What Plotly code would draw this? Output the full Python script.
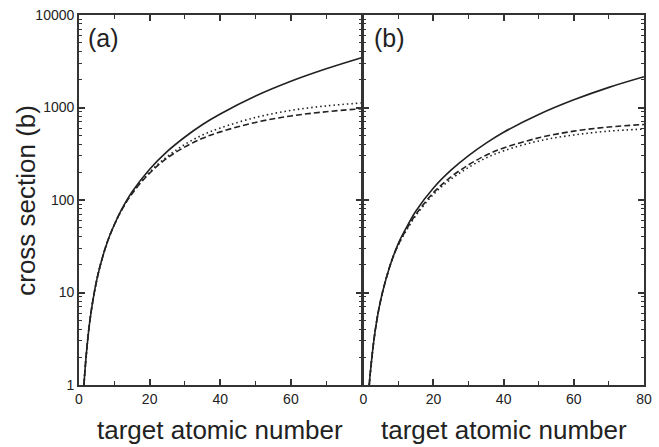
import plotly.graph_objects as go

# ---- data ----
z_a = [1.4, 2, 3, 4, 5, 6, 8, 10, 12, 15, 20, 25, 30, 35, 40, 50, 60, 70, 80]
a_solid = [1.0, 2.0, 4.7, 8.5, 13.5, 19.5, 35, 54, 78, 122, 215, 335, 480, 655, 850, 1330, 1920, 2620, 3450]
a_dotted = [1.0, 2.0, 4.7, 8.5, 13.5, 19.5, 35, 54, 77, 118, 200, 295, 400, 505, 600, 780, 930, 1040, 1120]
a_dashed = [1.0, 2.0, 4.7, 8.5, 13.5, 19.5, 35, 54, 77, 117, 195, 285, 375, 465, 545, 690, 810, 900, 970]

z_b = [1.7, 2, 3, 4, 5, 6, 8, 10, 12, 15, 20, 25, 30, 35, 40, 50, 60, 70, 80]
b_solid = [1.0, 1.35, 3.0, 5.4, 8.4, 12, 21.5, 34, 48, 76, 135, 210, 302, 412, 540, 840, 1210, 1650, 2150]
b_dashed = [1.0, 1.35, 3.0, 5.4, 8.4, 12, 21.5, 33, 46, 70, 120, 178, 240, 305, 365, 470, 555, 615, 655]
b_dotted = [1.0, 1.35, 3.0, 5.4, 8.4, 12, 21.5, 33, 45, 68, 115, 168, 225, 285, 340, 435, 505, 555, 585]

y_major = [1, 10, 100, 1000, 10000]
y_major_text = ["1", "10", "100", "1000", "10000"]
y_minor = [m * 10 ** e for e in range(4) for m in range(2, 10)]
xa_ticks = [0, 20, 40, 60]
xb_ticks = [0, 20, 40, 60, 80]
x_minor = [10, 30, 50, 70]

FONT = "Liberation Sans, Arial, Helvetica, sans-serif"
LINE = "#222"
AX = "#333"
LW = 1.8

fig = go.Figure()

def add(x, y, dash, xa, ya):
    fig.add_trace(go.Scatter(x=x, y=y, mode="lines", xaxis=xa, yaxis=ya,
                             line=dict(color=LINE, width=1.6, dash=dash, shape="spline"),
                             showlegend=False, hoverinfo="skip"))

add(z_a, a_solid, "solid", "x", "y")
add(z_a, a_dotted, "1.5px,3px", "x", "y")
add(z_a, a_dashed, "6px,3px", "x", "y")
add(z_b, b_solid, "solid", "x2", "y2")
add(z_b, b_dashed, "6px,3px", "x2", "y2")
add(z_b, b_dotted, "1.5px,3px", "x2", "y2")

W = 573.0
a_end = 286.5 / W
b_start = (286.5 + LW) / W

common_x = dict(range=[0, 80], ticks="inside", ticklen=6, tickwidth=1.5, tickcolor=AX,
                showline=True, linecolor=AX, linewidth=LW, mirror="allticks",
                showgrid=False, zeroline=False,
                tickfont=dict(family=FONT, size=14, color="#222"),
                minor=dict(tickvals=x_minor, ticks="inside", ticklen=4, tickwidth=1.3, tickcolor=AX, showgrid=False))
common_y = dict(type="log", range=[0, 4], ticks="inside", ticklen=6, tickwidth=1.5, tickcolor=AX,
                showline=True, linecolor=AX, linewidth=LW, mirror="allticks",
                showgrid=False, zeroline=False,
                tickvals=y_major, ticktext=y_major_text,
                tickfont=dict(family=FONT, size=14, color="#222"),
                minor=dict(tickvals=y_minor, ticks="inside", ticklen=3, tickwidth=1.2, tickcolor=AX, showgrid=False))

fig.update_layout(
    width=659, height=447,
    margin=dict(l=79, r=7, t=13, b=62),
    paper_bgcolor="white", plot_bgcolor="white",
    xaxis=dict(domain=[0, a_end], anchor="y", tickvals=xa_ticks, **common_x),
    xaxis2=dict(domain=[b_start, 1], anchor="y2", tickvals=xb_ticks, **common_x),
    yaxis=dict(domain=[0, 1], anchor="x", **common_y),
    yaxis2=dict(domain=[0, 1], anchor="x2", showticklabels=False, **common_y),
    font=dict(family=FONT, color="#222"),
)

ann = dict(showarrow=False, font=dict(family=FONT, size=26, color="#222"))
fig.add_annotation(text="cross section (b)", xref="paper", yref="paper", x=-54 / W, y=0.5,
                   xanchor="center", yanchor="middle", textangle=-90, **ann)
fig.add_annotation(text="target atomic number", xref="paper", yref="paper", x=a_end / 2, y=-45 / 372,
                   xanchor="center", yanchor="middle", **ann)
fig.add_annotation(text="target atomic number", xref="paper", yref="paper", x=(1 + b_start) / 2, y=-45 / 372,
                   xanchor="center", yanchor="middle", **ann)
lab = dict(showarrow=False, font=dict(family=FONT, size=25, color="#222"))
fig.add_annotation(text="(a)", xref="paper", yref="paper", x=7 / W, y=1 - 23 / 372,
                   xanchor="left", yanchor="middle", **lab)
fig.add_annotation(text="(b)", xref="paper", yref="paper", x=b_start + 9 / W, y=1 - 23 / 372,
                   xanchor="left", yanchor="middle", **lab)

fig.write_html("out.html")
